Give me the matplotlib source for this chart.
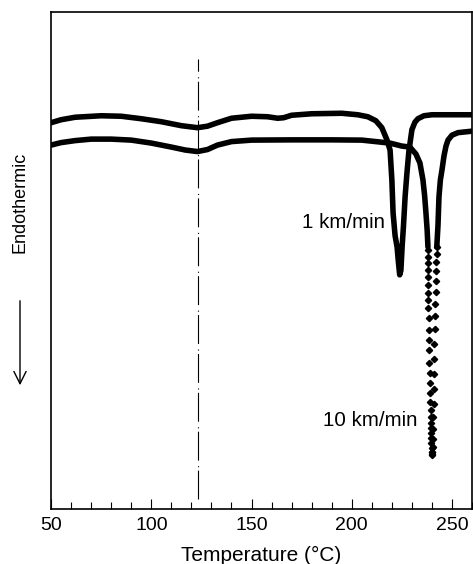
import numpy as np
import matplotlib
matplotlib.use("Agg")
import matplotlib.pyplot as plt
from matplotlib.ticker import MultipleLocator

plt.rcParams["font.family"] = ["Liberation Sans", "DejaVu Sans"]

# ─── DSC traces (heat flow in arbitrary units) ────────────────────────────────

# 1 km/min trace
t_1km = [50, 55, 62, 75, 85, 95, 105, 115, 123, 128, 133, 140, 150, 158, 163, 166,
         170, 180, 195, 203, 208, 212, 215, 217.5, 219.1, 220, 220.6, 221.6, 222.6,
         223.3, 223.9, 224.5, 225.1, 225.8, 226.6, 227.5, 228.5, 230, 231.5, 233,
         236, 240, 250, 260]
hf_1km = [77.7, 78.3, 78.8, 79.1, 79.0, 78.5, 77.9, 77.1, 76.7, 77.0, 77.7, 78.6,
          79.0, 78.9, 78.6, 78.7, 79.2, 79.5, 79.6, 79.3, 78.9, 78.1, 76.7, 74.3,
          72.2, 66.2, 59.6, 55.0, 52.7, 49.5, 47.1, 48.0, 52.7, 57.0, 62.8, 67.5,
          72.0, 76.3, 77.8, 78.5, 79.1, 79.3, 79.3, 79.3]

# 10 km/min trace, continuous part (NaN = gap where the sampled dots show)
t_10km = [50, 55, 62, 70, 80, 90, 100, 110, 117, 123, 128, 133, 140, 150, 170, 190,
          205, 212, 219, 225, 229, 232, 234, 235.5, 236.3, 237, 237.6, 238,
          np.nan,
          242.4, 243, 243.5, 244.2, 245, 246, 247, 248, 250, 253, 260]
hf_10km = [73.2, 73.7, 74.1, 74.4, 74.4, 74.2, 73.6, 72.8, 72.2, 71.9, 72.3, 73.2,
           73.9, 74.2, 74.25, 74.25, 74.2, 73.9, 73.6, 73.0, 72.8, 71.4, 69.6, 66.2,
           63.2, 59.6, 56.1, 52.7,
           np.nan,
           52.7, 57.0, 62.8, 66.2, 68.2, 71.0, 73.0, 74.2, 75.2, 75.7, 76.0]

# 10 km/min trace, individual samples in the deep melting peak
t_10km_dots = [238.0, 238.0, 238.05, 238.1, 238.1, 238.15, 238.2, 238.2, 238.25,
               238.3, 238.35, 238.45, 238.55, 238.7, 238.8, 238.95, 239.05, 239.2,
               239.3, 239.4, 239.5, 239.6, 239.65, 239.7, 239.75, 239.8, 239.85,
               239.9, 240.0,
               240.2, 240.3, 240.4, 240.6, 240.7, 240.8, 240.9, 241.0, 241.1, 241.2,
               241.3, 241.5, 241.7, 241.8, 242.0, 242.1, 242.2, 242.3, 242.4]
hf_10km_dots = [52.1, 50.7, 49.5, 48.1, 46.7, 45.1, 43.5, 42.1, 40.4, 38.4, 36.0,
                34.0, 32.0, 29.4, 27.4, 25.4, 23.3, 21.5, 19.9, 18.5, 17.3, 16.3,
                15.3, 14.3, 13.3, 12.3, 11.5, 11.0, 10.9,
                11.5, 12.5, 14.1, 16.1, 18.5, 21.1, 24.1, 27.2, 30.2, 33.2, 36.2,
                38.8, 41.2, 43.7, 45.9, 47.9, 49.7, 51.3, 52.7]

# glass transition marker
tg_temp = 123.3
tg_span = [2.0, 90.5]

labels = ["1 km/min", "10 km/min"]


# ─── Figure ───────────────────────────────────────────────────────────────────

fig = plt.figure(figsize=(4.73, 5.64), dpi=100)
ax = fig.add_axes([0.108, 0.0975, 0.89, 0.8815])

ax.plot(t_1km, hf_1km, color="black", lw=4, solid_capstyle="round")
ax.plot(t_10km, hf_10km, color="black", lw=4, solid_capstyle="round")
ax.plot(t_10km_dots, hf_10km_dots, ls="none", marker="D", ms=3.2, color="black")

ax.plot([tg_temp, tg_temp], tg_span, color="black", lw=0.8,
        ls=(0, (26, 3, 1, 5)))

ax.text(216.6, 57.7, labels[0], ha="right", va="center", fontsize=14.8)
ax.text(233.0, 17.9, labels[1], ha="right", va="center", fontsize=14.8)

ax.set_xlim(50, 260)
ax.set_ylim(0, 100)
ax.xaxis.set_major_locator(MultipleLocator(50))
ax.xaxis.set_minor_locator(MultipleLocator(10))
ax.tick_params(axis="x", which="major", direction="in", length=7, width=0.8,
               labelsize=14, pad=6)
ax.tick_params(axis="x", which="minor", direction="in", length=5, width=0.8)
ax.set_yticks([])
for sp in ax.spines.values():
    sp.set_linewidth(1.2)

ax.set_xlabel("Temperature (°C)", fontsize=15, labelpad=8)

# y-axis label + arrow pointing down (endothermic direction)
fig.text(20 / 473, 362 / 564, "Endothermic", rotation=90, ha="center",
         va="center", fontsize=13)
ax.annotate("", xy=(20, 176), xytext=(20, 266), xycoords="figure pixels",
            textcoords="figure pixels",
            arrowprops=dict(arrowstyle="->", lw=1, mutation_scale=22,
                            color="black"))

fig.savefig("out.png", dpi=100)
